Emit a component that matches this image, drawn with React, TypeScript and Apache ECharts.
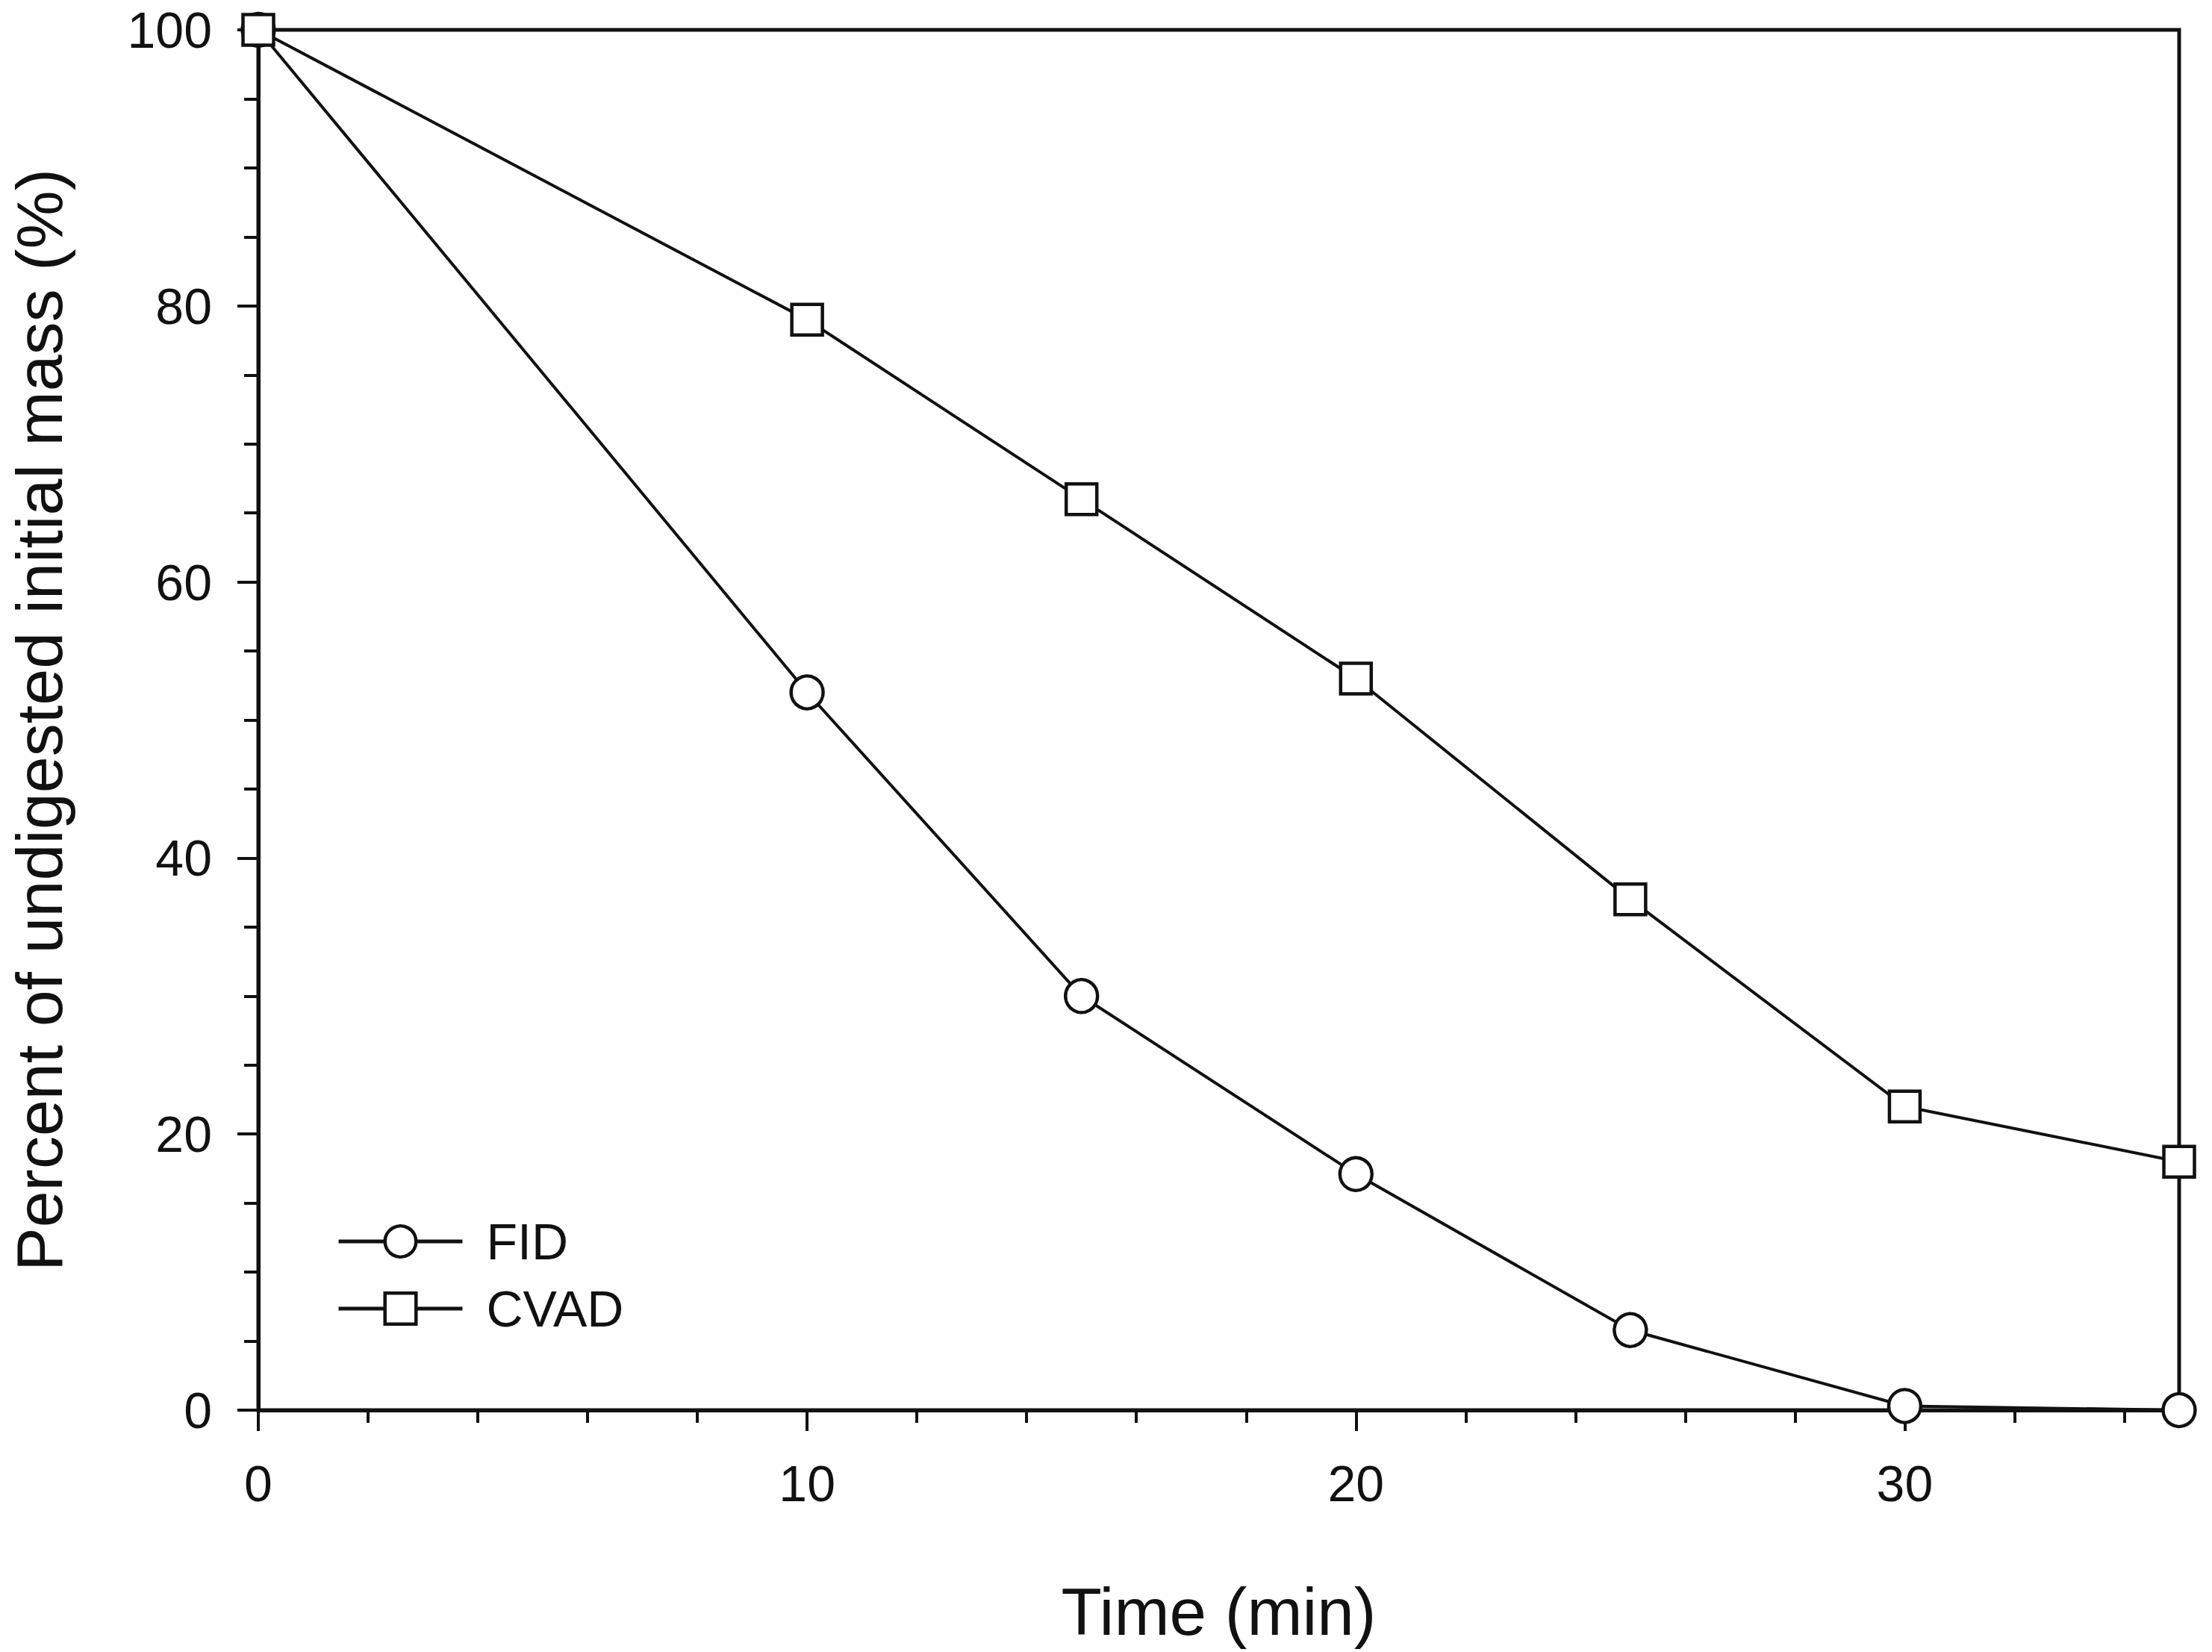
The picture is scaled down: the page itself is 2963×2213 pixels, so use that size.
import React, { useEffect, useRef } from "react";
import * as echarts from "echarts";

const timeMin = [0, 10, 15, 20, 25, 30, 35];
const fidValues = [100, 52, 30, 17.1, 5.8, 0.3, 0];
const cvadValues = [100, 79, 66, 53, 37, 22, 18];
const xMajorTicks = [0, 10, 20, 30];
const xMinorTicks = [2, 4, 6, 8, 12, 14, 16, 18, 22, 24, 26, 28, 32, 34];
const seriesNames = ["FID", "CVAD"];
const xTitle = "Time (min)";
const yTitle = "Percent of undigested initial mass (%)";

const W = 2963;
const H = 2213;
const FONT = "'Liberation Sans', Arial, sans-serif";
const INK = "#111";

export default function App() {
  const ref = useRef<HTMLDivElement>(null);
  useEffect(() => {
    if (!ref.current) return;
    const chart = echarts.init(ref.current, undefined, { renderer: "svg", width: W, height: H });
    const toPairs = (ys: number[]) => timeMin.map((x, i) => [x, ys[i]]);
    const itemStyle = { color: "#fff", borderColor: INK, borderWidth: 4.5 };
    const lineStyle = { color: INK, width: 4 };
    chart.setOption({
      animation: false,
      backgroundColor: "#fff",
      grid: {
        left: 344,
        right: 44,
        top: 40,
        bottom: 324,
        show: true,
        borderColor: INK,
        borderWidth: 5,
        backgroundColor: "transparent",
      },
      legend: {
        orient: "vertical",
        left: 446,
        top: 1624,
        itemWidth: 166,
        itemHeight: 52,
        itemGap: 22,
        data: seriesNames,
        itemStyle: { color: "#fff", borderColor: INK, borderWidth: 4.5 },
        lineStyle: { color: INK, width: 5 },
        textStyle: {
          fontFamily: FONT,
          fontSize: 68,
          color: INK,
          padding: [0, 0, 0, 27],
        },
      },
      xAxis: [
        {
          type: "value",
          min: 0,
          max: 35,
          interval: 10,
          name: xTitle,
          nameLocation: "middle",
          nameGap: 225,
          nameTextStyle: { fontFamily: FONT, fontSize: 89, color: INK },
          axisLine: { show: true, onZero: false, lineStyle: { color: INK, width: 5 } },
          axisTick: {
            show: true,
            inside: false,
            length: 28,
            customValues: xMajorTicks,
            lineStyle: { color: INK, width: 4 },
          },
          axisLabel: {
            show: true,
            margin: 64,
            customValues: xMajorTicks,
            fontFamily: FONT,
            fontSize: 68,
            color: INK,
          },
          splitLine: { show: false },
        },
        {
          type: "value",
          position: "bottom",
          min: 0,
          max: 35,
          interval: 2,
          axisLine: { show: false },
          axisTick: {
            show: true,
            inside: false,
            length: 17,
            customValues: xMinorTicks,
            lineStyle: { color: INK, width: 4 },
          },
          axisLabel: { show: false },
          splitLine: { show: false },
        },
      ],
      yAxis: {
        type: "value",
        min: 0,
        max: 100,
        interval: 20,
        name: yTitle,
        nameLocation: "middle",
        nameGap: 250,
        nameTextStyle: { fontFamily: FONT, fontSize: 88, color: INK },
        axisLine: { show: true, onZero: false, lineStyle: { color: INK, width: 5 } },
        axisTick: { show: true, inside: false, length: 28, lineStyle: { color: INK, width: 4 } },
        minorTick: { show: true, splitNumber: 4, length: 19, lineStyle: { color: INK, width: 4 } },
        axisLabel: { margin: 62, fontFamily: FONT, fontSize: 68, color: INK },
        splitLine: { show: false },
        minorSplitLine: { show: false },
      },
      series: [
        {
          name: seriesNames[0],
          type: "line",
          xAxisIndex: 0,
          data: toPairs(fidValues),
          symbol: "circle",
          symbolSize: [43, 44],
          showAllSymbol: true,
          lineStyle,
          itemStyle,
          z: 3,
        },
        {
          name: seriesNames[1],
          type: "line",
          xAxisIndex: 0,
          data: toPairs(cvadValues),
          symbol: "rect",
          symbolSize: 41,
          showAllSymbol: true,
          lineStyle,
          itemStyle,
          z: 4,
        },
      ],
    });
    return () => chart.dispose();
  }, []);
  return (
    <div
      ref={ref}
      style={{ position: "absolute", left: 0, top: 0, width: W, height: H, background: "#fff" }}
    />
  );
}
